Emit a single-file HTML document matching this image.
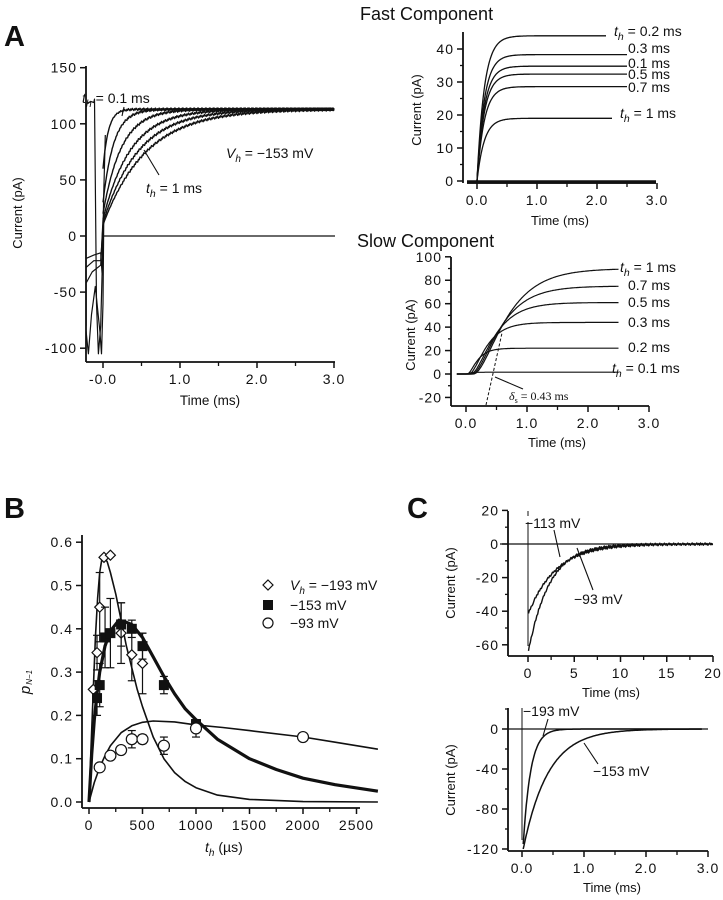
<!DOCTYPE html>
<html><head><meta charset="utf-8"><style>
html,body{margin:0;padding:0;background:#fff;}
svg{display:block;font-family:"Liberation Sans",sans-serif;}
text{fill:#111;}
</style></head><body>
<svg id="fig" width="723" height="900" viewBox="0 0 723 900" xmlns="http://www.w3.org/2000/svg">
<g id="static">
<text x="4" y="46" font-size="29" font-weight="bold">A</text>
<text x="4" y="518" font-size="29" font-weight="bold">B</text>
<text x="407" y="518" font-size="29" font-weight="bold">C</text>
<text x="360" y="20" font-size="18">Fast  Component</text>
<text x="357" y="247" font-size="18">Slow  Component</text>
</g>
<g id="plots"></g>
</svg>
<script>
// ---------- DATA ----------
const aTh=[0.1,0.2,0.3,0.5,0.7,1.0];
const aStart=[60,30,20,15,12,10];
const aTau=[0.07,0.14,0.24,0.36,0.46,0.56];
const aPlateau=113;
const aYTicks=[150,100,50,0,-50,-100];
const aXTicks=[0,1,2,3];
const aXTickLabels=["-0.0","1.0","2.0","3.0"];
const aPre1=[[-0.22,-20],[-0.12,-17],[-0.03,-15],[-0.01,-35],[0,5]];
const aPre2=[[-0.22,-28],[-0.12,-22],[-0.03,-22],[0,10]];
const aPre3=[[-0.22,-42],[-0.14,-32],[-0.03,-26],[0,15]];
const aVee=[[-0.22,-85],[-0.19,-105],[-0.15,-70],[-0.1,-45],[-0.04,-85],[-0.02,-105],[0,-60],[0.01,20]];
const aSpike=[[-0.222,30],[-0.219,-80]];
const aSpike2=[[-0.2,118],[-0.16,120],[-0.12,119],[-0.11,122],[-0.085,-60],[-0.06,-105],[-0.03,-80],[-0.01,-30],[0.01,40],[0.03,90]];
const fTh=["0.2","0.3","0.1","0.5","0.7","1"];
const fAmp=[44,38.3,34.8,32.4,28.6,19.0];
const fEnd=[2.15,2.5,2.5,2.5,2.5,2.25];
const fYTicks=[0,10,20,30,40];
const fXTicks=[0,1,2,3];
const fLabels=["t_h = 0.2 ms","0.3 ms","0.1 ms","0.5 ms","0.7 ms","t_h = 1 ms"];
const sAmp=[90,75,61,44,22,1.5];
const sDelay=[0.12,0.1,0.08,0.05,0.02,0];
const sTau=[0.42,0.36,0.3,0.22,0.13,0.05];
const sLabels=["t_h = 1 ms","0.7 ms","0.5 ms","0.3 ms","0.2 ms","t_h = 0.1 ms"];
const sYTicks=[100,80,60,40,20,0,-20];
const sXTicks=[0,1,2,3];
const bDiaT=[40,75,100,140,200,300,400,500];
const bDiaP=[0.26,0.345,0.45,0.565,0.57,0.39,0.34,0.32];
const bDiaErr=[0,0.04,0.08,0,0,0.07,0.06,0.07];
const bSqT=[75,100,150,200,300,400,500,700,1000];
const bSqP=[0.24,0.27,0.38,0.39,0.41,0.40,0.36,0.27,0.18];
const bSqErr=[0.04,0.05,0.07,0.08,0.05,0.02,0.03,0.02,0.01];
const bCiT=[100,200,300,400,500,700,1000,2000];
const bCiP=[0.08,0.107,0.12,0.145,0.145,0.13,0.17,0.15];
const bCiErr=[0,0,0,0.02,0.01,0.02,0.02,0];
const bFit193T=[0,20,40,60,80,100,120,140,170,200,250,300,350,400,450,500,600,700,800,900,1000,1200,1500,2000,2700];
const bFit193P=[0,0.13,0.26,0.38,0.47,0.53,0.56,0.565,0.555,0.53,0.48,0.42,0.36,0.31,0.26,0.22,0.15,0.10,0.068,0.047,0.033,0.016,0.006,0.001,0];
const bFit153T=[0,25,50,75,100,150,200,280,350,400,500,600,700,800,900,1000,1200,1500,1750,2000,2300,2700];
const bFit153P=[0,0.11,0.19,0.25,0.3,0.36,0.395,0.42,0.415,0.41,0.38,0.335,0.29,0.25,0.215,0.19,0.145,0.10,0.075,0.055,0.04,0.025];
const bFit93T=[0,50,100,150,200,300,400,500,600,800,1000,1250,1500,2000,2300,2700];
const bFit93P=[0,0.045,0.08,0.107,0.13,0.16,0.176,0.184,0.187,0.185,0.178,0.172,0.165,0.15,0.138,0.122];
const bYTicks=[0,0.1,0.2,0.3,0.4,0.5,0.6];
const bXTicks=[0,500,1000,1500,2000,2500];
const c1Amp=[-65,-42];
const c1Tau=[2.3,3.0];
const c1YTicks=[20,0,-20,-40,-60];
const c1XTicks=[0,5,10,15,20];
const c2Amp=[-115,-120];
const c2Tau=[0.12,0.4];
const c2YTicks=[0,-40,-80,-120];
const c2XTicks=[0,1,2,3];
const c2XTickLabels=["0.0","1.0","2.0","3.0"];

// ---------- SCALES ----------
const ax=t=>103+77*t, ay=v=>236-1.122*v;
const fx=t=>477+60*t, fy=v=>181-3.3*v;
const sx=t=>466+61*t, sy=v=>374-1.172*v;
const bx=t=>89+0.107*t, by=p=>802-433*p;
const c1x=t=>528+9.25*t, c1y=v=>544-1.68*v;
const c2x=t=>522+62*t, c2y=v=>729-1.0*v;

const NS="http://www.w3.org/2000/svg";
const root=document.getElementById('plots');
function el(tag,attrs,parent,txt){const e=document.createElementNS(NS,tag);for(const k in attrs)e.setAttribute(k,attrs[k]);if(txt!==undefined)e.textContent=txt;(parent||root).appendChild(e);return e;}
function grp(name){const g=el('g',{});


return g;}
function line(g,x1,y1,x2,y2,w,extra){return el('line',Object.assign({x1,y1,x2,y2,stroke:'#111','stroke-width':w||1.3},extra||{}),g);}
function poly(g,pts,w,extra){return el('polyline',Object.assign({points:pts.map(p=>p[0].toFixed(1)+','+p[1].toFixed(1)).join(' '),fill:'none',stroke:'#111','stroke-width':w||1.2,'stroke-linejoin':'round'},extra||{}),g);}
function txt(g,x,y,s,size,anchor,extra){return el('text',Object.assign({x,y,'font-size':size||12,'text-anchor':anchor||'start'},extra||{}),g,s);}
function thLabel(g,x,y,rest,size){const t=el('text',{x,y,'font-size':size||14},g);
el('tspan',{'font-style':'italic'},t,'t');
el('tspan',{'font-style':'italic','font-size':(size||14)*0.75,dy:4},t,'h');
el('tspan',{dy:-4},t,' '+rest);return t;}
function yAxis(g,x,yTop,yBot,ticks,fy,labels,minor,fs){line(g,x,yTop,x,yBot,1.8);ticks.forEach((v,i)=>{line(g,x-6,fy(v),x,fy(v),1.5);txt(g,x-9,fy(v)+5,labels?labels[i]:String(v),fs||14,'end',{'letter-spacing':'1'});});(minor||[]).forEach(v=>line(g,x-3,fy(v),x,fy(v),1.3));}
function xAxis(g,y,xL,xR,ticks,fx,labels,minor,fs){line(g,xL,y,xR,y,1.8);ticks.forEach((v,i)=>{line(g,fx(v),y,fx(v),y+6,1.5);txt(g,fx(v),y+22,labels?labels[i]:String(v),fs||14,'middle',{'letter-spacing':'1'});});(minor||[]).forEach(v=>line(g,fx(v),y,fx(v),y+4,1.3));}
function ytitle(g,x,y,s){txt(g,x,y,s,13,'middle',{transform:`rotate(-90 ${x} ${y})`});}

// ---------- PANEL A MAIN ----------
(function(){
const g=grp('panel-a-main-chart');
yAxis(g,86,66,362,aYTicks,ay,null,[],14);
xAxis(g,362,86,335,aXTicks,ax,aXTickLabels,[0.5,1.5,2.5],14);
ytitle(g,22,213,'Current  (pA)');
txt(g,210,405,'Time  (ms)',13.5,'middle');
line(g,103,236,335,236,1.3);
aTh.forEach((th,i)=>{const pts=[];for(let t=0;t<=3.0001;t+=0.01){const v=aPlateau-(aPlateau-aStart[i])*Math.exp(-t/aTau[i]);pts.push([ax(t),ay(v+((i*7+Math.round(t*100)*13)%5-2)*0.5*Math.min(1,t*3))]);}
const p=poly(g,pts,1.4);

});
[aPre1,aPre2,aPre3,aVee,aSpike,aSpike2].forEach(a=>{poly(g,a.map(d=>[ax(d[0]),ay(d[1])]),1.2);});
thLabel(g,82,103,'= 0.1 ms',14);
line(g,124,107,122,116,1.1);
thLabel(g,146,193,'= 1 ms',14);
line(g,159,175,144,150,1.1);
const vt=el('text',{x:226,y:158,'font-size':14},g);
el('tspan',{'font-style':'italic'},vt,'V');el('tspan',{'font-style':'italic','font-size':10,dy:4},vt,'h');el('tspan',{dy:-4},vt,' = \u2212153  mV');
})();

// ---------- FAST COMPONENT ----------
(function(){
const g=grp('fast-component-chart');
yAxis(g,463,32,183,fYTicks,fy,null,[5,15,25,35],14);
xAxis(g,183,467,656,fXTicks,fx,["0.0","1.0","2.0","3.0"],[0.5,1.5,2.5],14);
line(g,467,182,656,182,3.5);
ytitle(g,421,110,'Current  (pA)');
txt(g,560,225,'Time  (ms)',13,'middle');
const ly=[36,53,68,79,92,118];
fAmp.forEach((A,i)=>{const pts=[];for(let t=0;t<=fEnd[i]+0.001;t+=0.01){pts.push([fx(t),fy(A*(1-Math.exp(-t/0.12)))]);}
const p=poly(g,pts,1.3);


const lab=fLabels[i];if(lab.startsWith('t_h'))thLabel(g,i==0?614:620,ly[i],lab.slice(4),14);else txt(g,628,ly[i],lab,14);});
})();

// ---------- SLOW COMPONENT ----------
(function(){
const g=grp('slow-component-chart');
yAxis(g,451,257,406,sYTicks,sy,null,[90,70,50,30,10,-10],14);
xAxis(g,406,451,649,sXTicks,sx,["0.0","1.0","2.0","3.0"],[0.5,1.5,2.5],14);
ytitle(g,415,335,'Current  (pA)');
txt(g,557,447,'Time  (ms)',13,'middle');
const ly=[272,290,307,327,352,373];
sAmp.forEach((A,i)=>{const pts=[[sx(-0.15),sy(0)]];for(let t=0;t<=2.5001;t+=0.01){const u=Math.max(0,t-sDelay[i]);pts.push([sx(t),sy(A*Math.pow(1-Math.exp(-u/sTau[i]),2))]);}
const p=poly(g,pts,1.2);


const lab=sLabels[i];if(lab.startsWith('t_h'))thLabel(g,i==5?612:620,ly[i],lab.slice(4),14);else txt(g,628,ly[i],lab,14);});
line(g,486,405,502,333,1,{'stroke-dasharray':'3,2'});
line(g,495,377,523,389,1.1);
const d=el('text',{x:509,y:400,'font-size':12,'font-family':'Liberation Serif, serif'},g);
el('tspan',{'font-style':'italic'},d,'\u03B4');el('tspan',{'font-size':8,dy:3},d,'s');el('tspan',{dy:-3},d,' = 0.43 ms');
})();

// ---------- PANEL B ----------
(function(){
const g=grp('panel-b-chart');
yAxis(g,82,535,808,bYTicks,by,bYTicks.map(v=>v.toFixed(1)),[],14);
xAxis(g,808,82,360,bXTicks,bx,null,[250,750,1250,1750,2250],14);
const yt=el('text',{x:0,y:0,'font-size':15,'font-style':'italic',transform:'translate(30 682) rotate(-90)','text-anchor':'middle'},g);
yt.textContent='p';
el('tspan',{'font-size':8,dx:1,dy:2},yt,'N\u22121');
const xt=el('text',{x:205,y:852,'font-size':14},g);
el('tspan',{'font-style':'italic'},xt,'t');el('tspan',{'font-style':'italic','font-size':10,dy:4},xt,'h');el('tspan',{dy:-4},xt,'  (\u00B5s)');
const f1=poly(g,bFit193T.map((t,i)=>[bx(t),by(bFit193P[i])]),1.6);

const f2=poly(g,bFit153T.map((t,i)=>[bx(t),by(bFit153P[i])]),3.2);

const f3=poly(g,bFit93T.map((t,i)=>[bx(t),by(bFit93P[i])]),1.6);

function err(t,p,e){if(!e)return;const x=bx(t);line(g,x,by(p-e),x,by(p+e),1.2);line(g,x-4,by(p-e),x+4,by(p-e),1.2);line(g,x-4,by(p+e),x+4,by(p+e),1.2);}
bDiaT.forEach((t,i)=>{err(t,bDiaP[i],bDiaErr[i]);const x=bx(t),y=by(bDiaP[i]);const m=el('polygon',{points:`${x},${y-5} ${x+5},${y} ${x},${y+5} ${x-5},${y}`,fill:'#fff',stroke:'#111','stroke-width':1.2},g);
});
bSqT.forEach((t,i)=>{err(t,bSqP[i],bSqErr[i]);const m=el('rect',{x:bx(t)-5,y:by(bSqP[i])-5,width:10,height:10,fill:'#111'},g);
});
bCiT.forEach((t,i)=>{err(t,bCiP[i],bCiErr[i]);const m=el('circle',{cx:bx(t),cy:by(bCiP[i]),r:5.5,fill:'#fff',stroke:'#111','stroke-width':1.2},g);
});
const lg=grp('panel-b-legend');
el('polygon',{points:'268,580 273,585 268,590 263,585',fill:'#fff',stroke:'#111','stroke-width':1.2},lg);
el('rect',{x:263,y:600,width:10,height:10,fill:'#111'},lg);
el('circle',{cx:268,cy:623,r:5,fill:'#fff',stroke:'#111','stroke-width':1.2},lg);
const l1=el('text',{x:290,y:590,'font-size':14},lg);
el('tspan',{'font-style':'italic'},l1,'V');el('tspan',{'font-style':'italic','font-size':10,dy:4},l1,'h');el('tspan',{dy:-4},l1,' = \u2212193  mV');
txt(lg,290,610,'\u2212153  mV',14);txt(lg,290,628,'\u221293  mV',14);
})();

// ---------- PANEL C TOP ----------
(function(){
const g=grp('panel-c-top-chart');
yAxis(g,508,511,656,c1YTicks,c1y,null,[10,-10,-30,-50],14);
xAxis(g,656,508,713,c1XTicks,c1x,null,[2.5,7.5,12.5,17.5],14);
ytitle(g,455,583,'Current  (pA)');
txt(g,611,697,'Time  (ms)',13,'middle');
line(g,500,544,713,544,1.3);
line(g,528,511,528,516,1);line(g,528,522,528,646,1);
c1Amp.forEach((A,i)=>{const pts=[];for(let t=0.05;t<=20;t+=0.1){pts.push([c1x(t),c1y(A*Math.exp(-t/c1Tau[i])+(((Math.round(t*10)*7)%5)-2)*0.3)]);}
const p=poly(g,pts,1.4);
});
txt(g,525,528,'\u2212113  mV',14);line(g,554,530,560,557,1.1);
txt(g,574,604,'\u221293  mV',14);line(g,577,548,593,590,1.1);
})();

// ---------- PANEL C BOTTOM ----------
(function(){
const g=grp('panel-c-bottom-chart');
yAxis(g,508,708,851,c2YTicks,c2y,null,[20,-20,-60,-100],14);
xAxis(g,851,508,708,c2XTicks,c2x,c2XTickLabels,[0.5,1.5,2.5],14);
ytitle(g,455,780,'Current  (pA)');
txt(g,612,892,'Time  (ms)',13,'middle');
line(g,508,729,708,729,1.3);
line(g,522,708,522,840,1);
c2Amp.forEach((A,i)=>{const pts=[];for(let t=0.02;t<=2.9;t+=0.01){pts.push([c2x(t),c2y(A*Math.exp(-(t-0.02)/c2Tau[i]))]);}
const p=poly(g,pts,1.5);
});
txt(g,523,716,'\u2212193  mV',14);line(g,548,719,543,736,1.1);
txt(g,593,776,'\u2212153  mV',14);line(g,584,743,598,764,1.1);
})();
</script>
</body></html>
